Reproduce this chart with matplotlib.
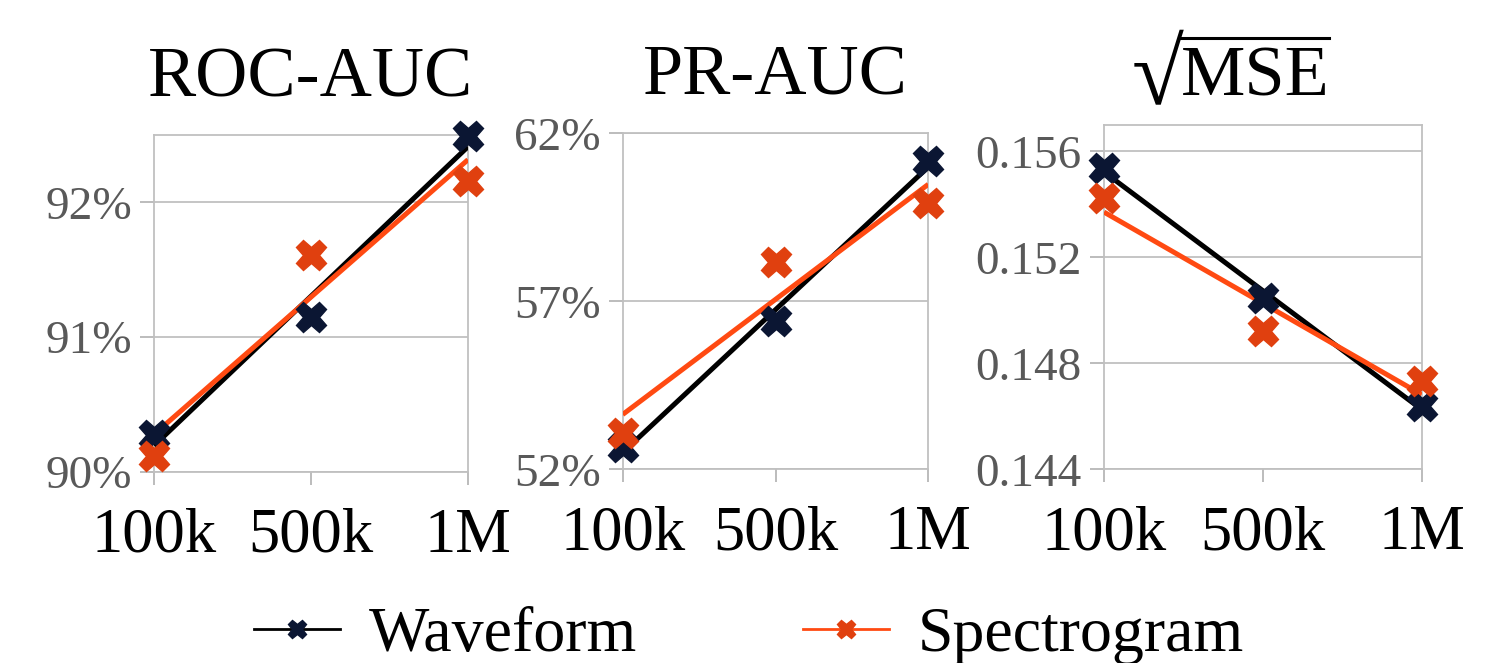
import numpy as np
import matplotlib
matplotlib.use("Agg")
from matplotlib import pyplot as plt
from matplotlib.lines import Line2D
from matplotlib.ticker import FuncFormatter

plt.rcParams['font.family'] = ['Liberation Serif', 'DejaVu Serif']

# data
sizes = ['100k', '500k', '1M']
roc_wave = [90.27, 91.15, 92.49]
roc_spec = [90.12, 91.61, 92.16]
pr_wave = [52.67, 56.41, 61.17]
pr_spec = [53.07, 58.18, 59.92]
mse_wave = [0.15537, 0.15046, 0.14640]
mse_spec = [0.15424, 0.14921, 0.14735]

titles = ['ROC-AUC', 'PR-AUC', None]
ylims = [(90, 92.5), (52, 62), (0.144, 0.157)]
yticks = [[90, 91, 92], [52, 57, 62], [0.144, 0.148, 0.152, 0.156]]
fmts = ['{:.0f}%', '{:.0f}%', '{:.3f}']

wave_c, wave_line = '#0b1633', '#000000'
spec_c, spec_line = '#e0400f', '#ff4a12'

W, H = 1498, 663
fig = plt.figure(figsize=(W / 100, H / 100), dpi=100)
# axes boxes in pixels: left, right, top, bottom
boxes = [(154, 468, 135, 471.7), (622.7, 928.3, 133.3, 469.3), (1104, 1421.7, 125, 469.3)]

series = [(roc_wave, roc_spec), (pr_wave, pr_spec), (mse_wave, mse_spec)]
x = np.arange(len(sizes))
for i, (wv, sp) in enumerate(series):
    l, r, t, b = boxes[i]
    ax = fig.add_axes([l / W, 1 - b / H, (r - l) / W, (b - t) / H])
    for ys, mc, lc in [(wv, wave_c, wave_line), (sp, spec_c, spec_line)]:
        k, c = np.polyfit(x, ys, 1)
        ax.plot([x[0], x[-1]], [k * x[0] + c, k * x[-1] + c], color=lc, lw=3.6, zorder=3,
                solid_capstyle='butt')
    for ys, mc in [(wv, wave_c), (sp, spec_c)]:
        ax.plot(x, ys, ls='none', marker='X', ms=22, color=mc, mec=mc, zorder=4, clip_on=False)
    ax.set_xlim(0, 2)
    ax.set_ylim(*ylims[i])
    ax.set_yticks(yticks[i])
    ax.set_xticks(x)
    ax.set_xticklabels(sizes)
    f = fmts[i]
    ax.yaxis.set_major_formatter(FuncFormatter(lambda v, p, f=f: f.format(v)))
    ax.grid(axis='y', color='#c0c0c0', lw=1.3)
    for s in ax.spines.values():
        s.set_color('#c0c0c0')
        s.set_linewidth(1.3)
    ax.tick_params(axis='y', labelsize=34, labelcolor='#595959', color='#b0b0b0',
                   length=10, width=1.2, pad=6)
    ax.tick_params(axis='x', labelsize=45, labelcolor='black', color='#b0b0b0',
                   length=9, width=1.2, pad=17)
    if titles[i]:
        ax.set_title(titles[i], fontsize=52, pad=28)

# third title: radical + "MSE" with a bar over it
mse = fig.text(1255 / W, 1 - 96 / H, 'MSE', ha='center', va='baseline', fontsize=52)
fig.canvas.draw()
rend = fig.canvas.get_renderer()
mb = mse.get_window_extent(rend)
rad = fig.text((mb.x0 + 3) / W, 1 - 104 / H, '\u221a', ha='right', va='baseline', fontsize=68)
rb = rad.get_window_extent(rend)
fig.add_artist(Line2D([(rb.x1 - 4) / W, mb.x1 / W], [1 - 38 / H, 1 - 38 / H],
                      color='black', lw=2.2))

handles = [Line2D([], [], color=wave_line, lw=2, marker='X', ms=13, mfc=wave_c, mec=wave_c),
           Line2D([], [], color=spec_line, lw=2, marker='X', ms=13, mfc=spec_c, mec=spec_c)]
fig.legend(handles, ['Waveform', 'Spectrogram'], loc='lower center', bbox_to_anchor=(0.5, -0.09),
           ncol=2, frameon=False, fontsize=46, handlelength=1.35, handletextpad=0.45,
           columnspacing=2.6)

fig.savefig('out.png', dpi=100)
